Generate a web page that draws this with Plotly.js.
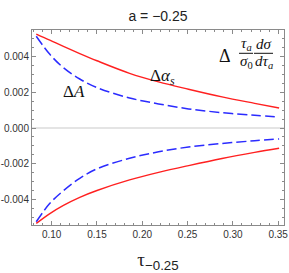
<!DOCTYPE html>
<html>
<head>
<meta charset="utf-8">
<script src="https://cdn.plot.ly/plotly-3.0.1.min.js"></script>
<style>html,body{margin:0;padding:0;background:#fff}#plot{width:289px;height:273px}</style>
</head>
<body>
<div id="plot"></div>
<script>
var tau = [0.083, 0.098, 0.113, 0.131, 0.150, 0.186, 0.218, 0.251, 0.288, 0.324, 0.351];
var alphaUpper = [0.00525, 0.00491, 0.00456, 0.00416, 0.00376, 0.00306, 0.00258, 0.00217, 0.00174, 0.00138, 0.00112];
var alphaLower = [-0.00533, -0.00478, -0.00432, -0.00387, -0.00349, -0.00290, -0.00248, -0.00210, -0.00170, -0.00136, -0.00113];
var aUpper = [0.00513, 0.00412, 0.00337, 0.00274, 0.00226, 0.00168, 0.00135, 0.00107, 0.00086, 0.00071, 0.00061];
var aLower = [-0.00524, -0.00421, -0.00350, -0.00281, -0.00228, -0.00169, -0.00133, -0.00106, -0.00086, -0.00071, -0.00061];
var xTicks = [0.10, 0.15, 0.20, 0.25, 0.30, 0.35];
var xTickText = ['0.10', '0.15', '0.20', '0.25', '0.30', '0.35'];
var yTicks = [-0.004, -0.002, 0, 0.002, 0.004];
var yTickText = ['-0.004', '-0.002', '0.000', '0.002', '0.004'];

var red = {color: '#ff2020', width: 1.4, shape: 'spline', smoothing: 1};
var blue = {color: '#2b2bff', width: 1.5, dash: '10px,4px', shape: 'spline', smoothing: 1};
var traces = [
  {x: tau, y: alphaUpper, mode: 'lines', line: red, hoverinfo: 'skip'},
  {x: tau, y: alphaLower, mode: 'lines', line: red, hoverinfo: 'skip'},
  {x: tau, y: aUpper, mode: 'lines', line: blue, hoverinfo: 'skip'},
  {x: tau, y: aLower, mode: 'lines', line: blue, hoverinfo: 'skip'}
];

var serif = 'Liberation Serif, Times New Roman, serif';
var sans = 'Liberation Sans, Arial, sans-serif';
function ann(text, x, y, size) {
  return {text: text, x: x, y: y, xref: 'paper', yref: 'paper', showarrow: false,
    xanchor: 'center', yanchor: 'middle', font: {family: serif, size: size, color: '#111'}};
}

var layout = {
  width: 289, height: 273,
  margin: {l: 32, r: 5, t: 30, b: 48},
  paper_bgcolor: '#fff', plot_bgcolor: '#fff',
  showlegend: false,
  title: {text: 'a = \u22120.25', font: {family: sans, size: 14, color: '#222'},
    x: 0.5, xref: 'paper', y: 1 - 16 / 273, yref: 'container', yanchor: 'middle'},
  xaxis: {
    range: [0.0783, 0.3564], showgrid: false, zeroline: false,
    showline: true, linecolor: '#8a8a8a', linewidth: 1, mirror: 'allticks',
    ticks: 'inside', ticklen: 4, tickcolor: '#8a8a8a', tickwidth: 1,
    tickvals: xTicks, ticktext: xTickText,
    tickfont: {family: sans, size: 10, color: '#333'},
    minor: {dtick: 0.01, tick0: 0, ticks: 'inside', ticklen: 2, tickcolor: '#8a8a8a'},
    title: {text: '\u03c4<sub><span style="font-family:Liberation Sans">\u22120.25</span></sub>',
      font: {family: serif, size: 19, color: '#222'}, standoff: 20}
  },
  yaxis: {
    range: [-0.00542, 0.00548], showgrid: false,
    zeroline: true, zerolinecolor: '#e4e4e4', zerolinewidth: 1.5,
    showline: true, linecolor: '#8a8a8a', linewidth: 1, mirror: 'allticks',
    ticks: 'inside', ticklen: 4, tickcolor: '#8a8a8a', tickwidth: 1,
    tickvals: yTicks, ticktext: yTickText,
    tickfont: {family: sans, size: 10, color: '#333'},
    minor: {dtick: 0.0005, tick0: 0, ticks: 'inside', ticklen: 2, tickcolor: '#8a8a8a'}
  },
  annotations: [
    ann('\u0394<i>\u03b1</i><sub><i>s</i></sub>', (162 - 32) / 252, (225 - 77) / 195, 17),
    ann('\u0394<i>A</i>', (74 - 32) / 252, (225 - 91) / 195, 17),
    ann('\u0394', (224.5 - 32) / 252, (225 - 56) / 195, 18),
    ann('<i>\u03c4</i><sub><i>a</i></sub>', (246 - 32) / 252, (225 - 44) / 195, 15),
    ann('<i>\u03c3</i><sub>0</sub>', (246 - 32) / 252, (225 - 62) / 195, 15),
    ann('<i>d\u03c3</i>', (263.5 - 32) / 252, (225 - 44) / 195, 15),
    ann('<i>d\u03c4</i><sub><i>a</i></sub>', (263.5 - 32) / 252, (225 - 62) / 195, 15)
  ],
  shapes: [
    {type: 'line', xref: 'paper', yref: 'paper', x0: (239 - 32) / 252, x1: (253 - 32) / 252,
      y0: (225 - 53.3) / 195, y1: (225 - 53.3) / 195, line: {color: '#111', width: 1}},
    {type: 'line', xref: 'paper', yref: 'paper', x0: (254 - 32) / 252, x1: (273 - 32) / 252,
      y0: (225 - 53.3) / 195, y1: (225 - 53.3) / 195, line: {color: '#111', width: 1}}
  ]
};

Plotly.newPlot('plot', traces, layout, {staticPlot: true, displayModeBar: false});
</script>
</body>
</html>
